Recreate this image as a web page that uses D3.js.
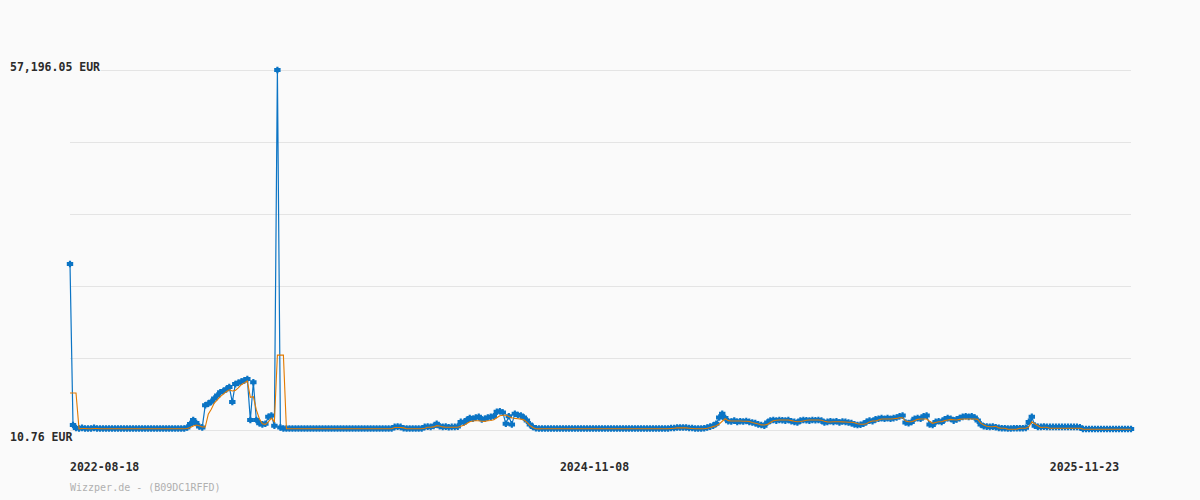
<!DOCTYPE html>
<html>
<head>
<meta charset="utf-8">
<script src="https://cdn.jsdelivr.net/npm/d3@7"></script>
<style>
  html, body { margin: 0; padding: 0; background: #fafafa; }
  svg { display: block; }
  .lbl { font-family: "DejaVu Sans Mono", monospace; font-weight: bold; font-size: 11.5px; fill: #2b2b2b; }
  .foot { font-family: "DejaVu Sans Mono", monospace; font-size: 10px; fill: #b0b0b0; }
</style>
</head>
<body>
<div id="chart"></div>
<script>
// price per sample, EUR (one sample every ~3px)
var prices = [
  26380, 805, 330, 250, 350, 250, 250, 250, 350, 250,
  250, 250, 250, 250, 250, 250, 250, 250, 250, 250,
  250, 250, 250, 250, 250, 250, 250, 250, 250, 250,
  250, 250, 250, 250, 250, 250, 250, 250, 250, 400,
  960, 1600, 1120, 560, 420, 3950, 4200, 4500, 5000, 5500,
  6000, 6200, 6500, 6850, 4450, 7300, 7500, 7700, 7900, 8100,
  1600, 7600, 1600, 1100, 900, 1000, 2100, 2300, 700, 57196.05,
  400, 250, 250, 250, 250, 250, 250, 250, 250, 250,
  250, 250, 250, 250, 250, 250, 250, 250, 250, 250,
  250, 250, 250, 250, 250, 250, 250, 250, 250, 250,
  250, 250, 250, 250, 250, 250, 250, 250, 500, 550,
  500, 300, 250, 250, 250, 250, 250, 250, 500, 550,
  500, 650, 1000, 600, 500, 550, 450, 500, 500, 550,
  1300, 1200, 1600, 1900, 1800, 2000, 2100, 1700, 1800, 2000,
  2100, 2200, 2900, 3000, 2800, 1000, 2200, 900, 2600, 2400,
  2300, 2000, 1500, 900, 500, 300, 250, 250, 250, 250,
  250, 250, 250, 250, 250, 250, 250, 250, 250, 250,
  250, 250, 250, 250, 250, 250, 250, 250, 250, 250,
  250, 250, 250, 250, 250, 250, 250, 250, 250, 250,
  250, 250, 250, 250, 250, 250, 250, 250, 250, 250,
  330, 330, 400, 400, 400, 400, 330, 330, 250, 250,
  250, 300, 400, 550, 700, 1000, 2000, 2600, 1900, 1400,
  1350, 1500, 1300, 1400, 1350, 1450, 1300, 1200, 1100, 900,
  800, 700, 1200, 1500, 1600, 1500, 1600, 1550, 1500, 1600,
  1400, 1300, 1200, 1500, 1600, 1550, 1500, 1600, 1550, 1600,
  1500, 1200, 1300, 1400, 1300, 1400, 1200, 1350, 1300, 1200,
  1100, 900, 800, 850, 1000, 1300, 1500, 1400, 1700, 1800,
  1900, 1800, 1900, 1800, 1900, 2000, 2200, 2300, 1200, 1100,
  1300, 1800, 1900, 1800, 2200, 2300, 900, 800, 1300, 1400,
  1300, 1700, 1900, 1800, 1500, 1700, 1900, 2100, 2200, 2100,
  2200, 2000, 1500, 900, 600, 550, 500, 550, 450, 350,
  300, 280, 250, 250, 280, 300, 300, 300, 350, 1300,
  2100, 700, 500, 500, 550, 500, 500, 500, 500, 500,
  500, 500, 500, 500, 500, 500, 450, 170, 170, 170,
  170, 170, 170, 170, 170, 170, 170, 170, 170, 170,
  170, 170, 170, 170
];

// orange average line, EUR
var average = [
  5900, 5900, 5900, 200, 250, 250, 200, 200, 250, 250,
  200, 200, 200, 200, 200, 200, 200, 200, 200, 200,
  200, 200, 200, 200, 200, 200, 200, 200, 200, 200,
  200, 200, 200, 200, 200, 200, 200, 200, 200, 250,
  400, 650, 800, 700, 500, 480, 2500, 3300, 4300, 4800,
  5300, 5700, 6100, 6400, 6200, 6300, 6700, 7200, 7500, 7800,
  5200, 5300, 3200, 1800, 1000, 900, 1300, 1900, 1300, 11900,
  11900, 11900, 200, 200, 200, 200, 200, 200, 200, 200,
  200, 200, 200, 200, 200, 200, 200, 200, 200, 200,
  200, 200, 200, 200, 200, 200, 200, 200, 200, 200,
  200, 200, 200, 200, 200, 200, 200, 200, 400, 400,
  400, 350, 200, 200, 200, 200, 200, 200, 300, 450,
  450, 500, 700, 650, 500, 450, 450, 450, 450, 450,
  600, 750, 1050, 1330, 1450, 1490, 1490, 1400, 1380, 1490,
  1520, 1650, 1950, 2280, 2350, 2390, 2150, 1950, 1850, 1800,
  1740, 1620, 1250, 750, 400, 200, 190, 200, 200, 200,
  200, 200, 200, 200, 200, 200, 200, 200, 200, 200,
  200, 200, 200, 200, 200, 200, 200, 200, 200, 200,
  200, 200, 200, 200, 200, 200, 200, 200, 200, 200,
  200, 200, 200, 200, 200, 200, 200, 200, 200, 200,
  250, 300, 350, 350, 350, 350, 300, 250, 200, 200,
  200, 220, 280, 400, 550, 700, 950, 1400, 1800, 1500,
  1440, 1440, 1440, 1430, 1400, 1400, 1350, 1200, 1075, 950,
  820, 805, 900, 1200, 1490, 1550, 1600, 1600, 1600, 1600,
  1500, 1400, 1330, 1350, 1450, 1550, 1600, 1600, 1600, 1600,
  1550, 1400, 1300, 1280, 1330, 1330, 1330, 1300, 1280, 1250,
  1240, 1150, 1000, 920, 920, 1000, 1300, 1440, 1440, 1600,
  1760, 1760, 1760, 1760, 1800, 1850, 1960, 1960, 1440, 1330,
  1330, 1500, 1700, 1760, 1760, 1760, 1400, 1075, 1200, 1330,
  1330, 1500, 1600, 1700, 1650, 1600, 1700, 1760, 1760, 1760,
  1760, 1760, 1700, 1100, 805, 600, 535, 535, 600, 350,
  280, 280, 150, 120, 120, 150, 280, 280, 280, 500,
  1330, 1000, 700, 400, 440, 440, 280, 280, 280, 280,
  280, 280, 280, 280, 280, 280, 280, 150, 120, 120,
  120, 120, 120, 120, 120, 120, 120, 120, 120, 120,
  120, 120, 120, 120
];

var xTickLabels = ["2022-08-18", "2024-11-08", "2025-11-23"];
var xTickIndex = [0, 163, 326];
var yMin = 10.76, yMax = 57196.05;
var yGridCount = 5;
var footer = "Wizzper.de - (B09DC1RFFD)";

var width = 1200, height = 500;
var margin = {top: 70, right: 69, bottom: 70, left: 70};

var svg = d3.select("#chart").append("svg")
	.attr("width", width)
	.attr("height", height);

svg.append("rect").attr("width", width).attr("height", height).attr("fill", "#fafafa");

var x = d3.scaleLinear()
	.domain([0, prices.length - 1])
	.range([margin.left, width - margin.right]);

var y = d3.scaleLinear()
	.domain([yMin, yMax])
	.range([height - margin.bottom, margin.top]);

var fmt = d3.format(",.2f");

// grid
var gridVals = d3.range(yGridCount + 1).map(function(k){ return yMin + (yMax - yMin) * k / yGridCount; });
svg.append("g").selectAll("line")
	.data(gridVals)
  .enter().append("line")
	.attr("x1", margin.left)
	.attr("x2", width - margin.right)
	.attr("y1", function(d){ return Math.round(y(d)) + 0.5; })
	.attr("y2", function(d){ return Math.round(y(d)) + 0.5; })
	.attr("stroke", "#e4e4e4")
	.attr("stroke-width", 1);

var line = d3.line()
	.x(function(d, i){ return x(i); })
	.y(function(d){ return y(d); });

svg.append("path")
	.datum(prices)
	.attr("d", line)
	.attr("fill", "none")
	.attr("stroke", "#0b74c4")
	.attr("stroke-width", 1.2);

// wide plus markers, they overlap into a band like the original
var marker = "M-3.2,-2h6.4v4h-6.4z M-1.1,-3.3h2.2v6.6h-2.2z";
svg.append("g").selectAll("path")
	.data(prices)
  .enter().append("path")
	.attr("d", marker)
	.attr("transform", function(d, i){ return "translate(" + x(i) + "," + y(d) + ")"; })
	.attr("fill", "#0b74c4");

svg.append("path")
	.datum(average)
	.attr("d", line)
	.attr("fill", "none")
	.attr("stroke", "#e27a00")
	.attr("stroke-width", 1.1);

// y labels (max on top, min at bottom)
var maxLabel = svg.append("g");
var maxText = maxLabel.append("text")
	.attr("class", "lbl")
	.attr("x", 10)
	.attr("y", 71)
	.text(fmt(yMax) + " EUR");
var bb = maxText.node().getBBox();
maxLabel.insert("rect", "text")
	.attr("x", bb.x - 1).attr("y", bb.y).attr("width", bb.width + 2).attr("height", bb.height)
	.attr("fill", "#fafafa");

svg.append("text")
	.attr("class", "lbl")
	.attr("x", 10)
	.attr("y", 441)
	.text(fmt(yMin) + " EUR");

// x labels
svg.append("g").selectAll("text")
	.data(xTickLabels)
  .enter().append("text")
	.attr("class", "lbl")
	.attr("x", function(d, k){ return x(xTickIndex[k]); })
	.attr("y", 471)
	.text(function(d){ return d; });

svg.append("text")
	.attr("class", "foot")
	.attr("x", 70)
	.attr("y", 491)
	.text(footer);
</script>
</body>
</html>
